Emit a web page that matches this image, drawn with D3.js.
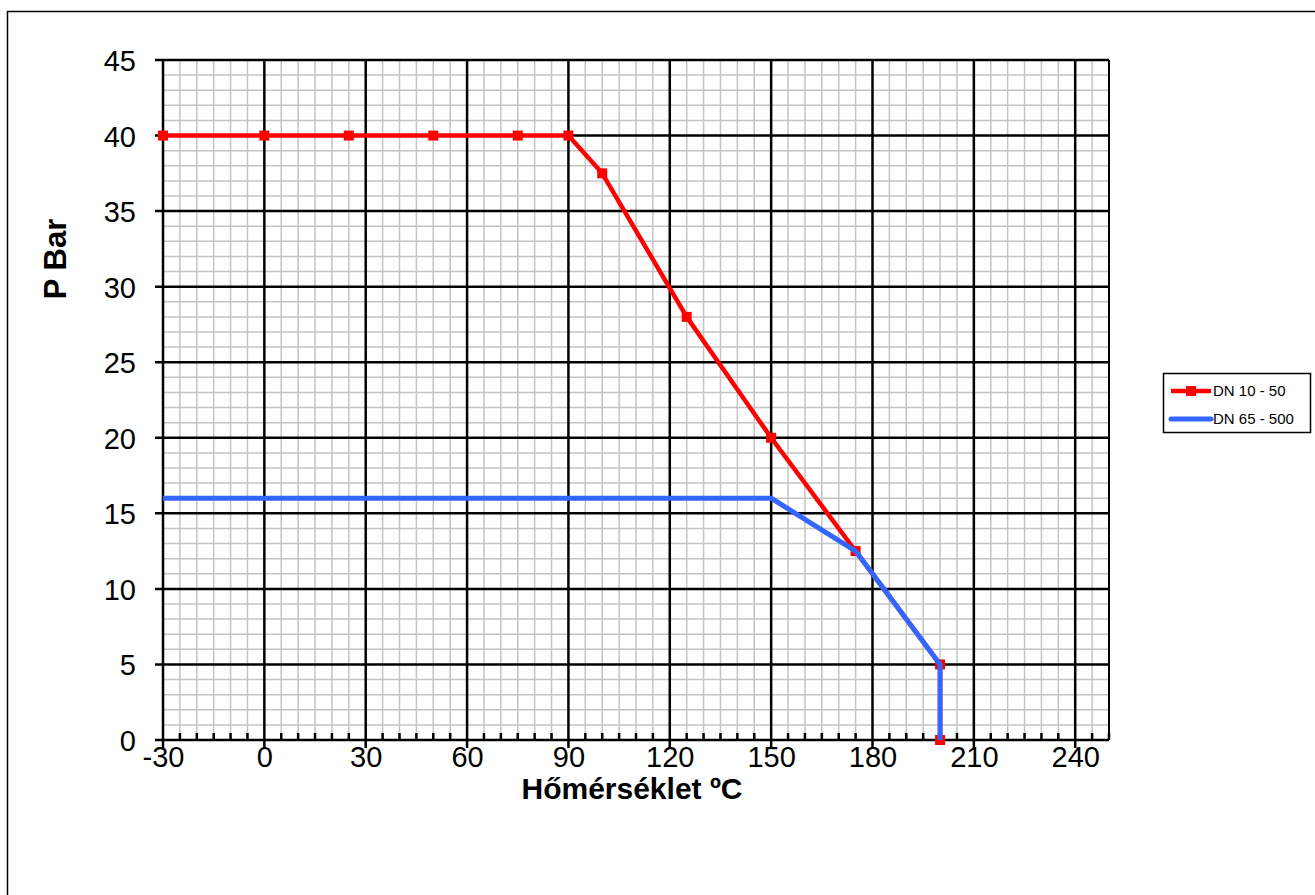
<!DOCTYPE html>
<html><head><meta charset="utf-8">
<script src="https://cdn.jsdelivr.net/npm/d3@7"></script>
<style>body{margin:0;background:#fff}svg{display:block}text{font-family:"Liberation Sans",Arial,sans-serif}</style>
</head><body>
<svg id="c" width="1315" height="895"></svg>
<script>
const xTicks = [-30, 0, 30, 60, 90, 120, 150, 180, 210, 240];
const yTicks = [0, 5, 10, 15, 20, 25, 30, 35, 40, 45];
const series1Name = "DN 10 - 50";
const series1X = [-30, 0, 25, 50, 75, 90, 100, 125, 150, 175, 200, 200];
const series1Y = [40, 40, 40, 40, 40, 40, 37.5, 28, 20, 12.5, 5, 0];
const series2Name = "DN 65 - 500";
const series2X = [-30, 150, 175, 200, 200];
const series2Y = [16, 16, 12.5, 5, 0];
const xTitle = "Hőmérséklet ºC";
const yTitle = "P Bar";

const FONT = '"Liberation Sans",Arial,sans-serif';
const svg = d3.select("#c");
const L = 163, R = 1109, T = 60, B = 740;
const x = d3.scaleLinear().domain([-30, 250]).range([L, R]);
const y = d3.scaleLinear().domain([0, 45]).range([B, T]);

// outer border
svg.append("rect").attr("x", 7.5).attr("y", 11.5).attr("width", 1320).attr("height", 900)
  .attr("fill", "none").attr("stroke", "#000").attr("stroke-width", 1.5);

const g = svg.append("g");
// minor grid
const xMinor = d3.range(-25, 251, 5).filter(v => (v + 30) % 30 !== 0);
const yMinor = d3.range(1, 46, 1).filter(v => v % 5 !== 0);
g.selectAll(".mx").data(xMinor).join("line")
  .attr("x1", d => x(d)).attr("x2", d => x(d)).attr("y1", T).attr("y2", B)
  .attr("stroke", "#c4c4c4").attr("stroke-width", 1.5);
g.selectAll(".my").data(yMinor).join("line")
  .attr("x1", L).attr("x2", R).attr("y1", d => y(d)).attr("y2", d => y(d))
  .attr("stroke", "#c4c4c4").attr("stroke-width", 1.5);
// major grid
g.selectAll(".Mx").data(xTicks).join("line")
  .attr("x1", d => x(d)).attr("x2", d => x(d)).attr("y1", T).attr("y2", B + 8)
  .attr("stroke", "#000").attr("stroke-width", 2.5);
g.selectAll(".My").data(yTicks).join("line")
  .attr("x1", L - 8).attr("x2", R).attr("y1", d => y(d)).attr("y2", d => y(d))
  .attr("stroke", "#000").attr("stroke-width", 2.5);
// right border
g.append("line").attr("x1", R).attr("x2", R).attr("y1", T).attr("y2", B)
  .attr("stroke", "#000").attr("stroke-width", 2);
// minor x ticks
g.selectAll(".mt").data(xMinor).join("line")
  .attr("x1", d => x(d)).attr("x2", d => x(d)).attr("y1", B).attr("y2", B - 7)
  .attr("stroke", "#000").attr("stroke-width", 2.5);

// axis labels via d3 axes (text only)
const xa = svg.append("g").attr("transform", `translate(0,${B})`)
  .call(d3.axisBottom(x).tickValues(xTicks).tickFormat(d => String(d)).tickSize(0).tickPadding(0));
xa.select(".domain").remove();
xa.attr("font-size", null).attr("font-family", null);
xa.selectAll("text").attr("dy", null).attr("y", 27).attr("font-size", 29).attr("fill", "#000").attr("font-family", FONT);
const ya = svg.append("g").attr("transform", `translate(${L},0)`)
  .call(d3.axisLeft(y).tickValues(yTicks).tickFormat(d => String(d)).tickSize(0).tickPadding(0));
ya.select(".domain").remove();
ya.attr("font-size", null).attr("font-family", null);
ya.selectAll("text").attr("dy", null).attr("x", -27).attr("y", 10.5).attr("font-size", 29).attr("fill", "#000").attr("font-family", FONT);

svg.append("text").attr("x", 632).attr("y", 799).attr("text-anchor", "middle")
  .attr("font-size", 30).attr("font-weight", "bold").text(xTitle);
svg.append("text").attr("transform", "translate(66,259) rotate(-90)").attr("text-anchor", "middle")
  .attr("font-size", 31).attr("font-weight", "bold").text(yTitle);

// series
const line = d3.line().x(d => x(d[0])).y(d => y(d[1]));
const d1 = series1X.map((v, i) => [v, series1Y[i]]);
const d2 = series2X.map((v, i) => [v, series2Y[i]]);
svg.append("path").datum(d1).attr("d", line).attr("fill", "none")
  .attr("stroke", "#ff0000").attr("stroke-width", 4.5).attr("stroke-linejoin", "round");
svg.selectAll(".m1").data(d1).join("rect")
  .attr("x", d => x(d[0]) - 5).attr("y", d => y(d[1]) - 5).attr("width", 10).attr("height", 10)
  .attr("fill", "#ff0000");
svg.append("path").datum(d2).attr("d", line).attr("fill", "none")
  .attr("stroke", "#3366ff").attr("stroke-width", 5).attr("stroke-linejoin", "round");

// legend
const lg = svg.append("g");
lg.append("rect").attr("x", 1163.5).attr("y", 373.5).attr("width", 147).attr("height", 59)
  .attr("fill", "#fff").attr("stroke", "#000").attr("stroke-width", 1.5);
lg.append("line").attr("x1", 1171).attr("x2", 1211).attr("y1", 391).attr("y2", 391)
  .attr("stroke", "#ff0000").attr("stroke-width", 4.5);
lg.append("rect").attr("x", 1186).attr("y", 386).attr("width", 10).attr("height", 10).attr("fill", "#ff0000");
lg.append("text").attr("x", 1213).attr("y", 396).attr("font-size", 15).text(series1Name);
lg.append("line").attr("x1", 1171).attr("x2", 1211).attr("y1", 419).attr("y2", 419)
  .attr("stroke", "#3366ff").attr("stroke-width", 5).attr("stroke-linecap", "round");
lg.append("text").attr("x", 1213).attr("y", 424).attr("font-size", 15).text(series2Name);
</script>
</body></html>
